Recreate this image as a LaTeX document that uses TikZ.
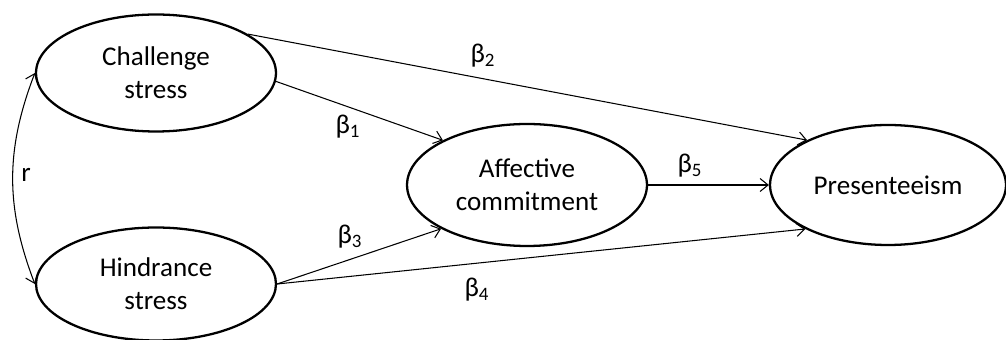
\documentclass[tikz,border=0pt]{standalone}
\usepackage{fontspec}
\setmainfont{Carlito}
\usetikzlibrary{arrows.meta,shapes.geometric}

\begin{document}
\begin{tikzpicture}[
  x=0.02cm, y=-0.02cm,
  font=\fontsize{15.4}{19}\selectfont,
  >={Straight Barb[length=1.6mm,width=2.6mm]},
  construct/.style={ellipse,draw,line width=1.3pt,minimum width=4.8cm,minimum height=2.34cm,align=center,inner sep=0pt},
  path/.style={->,line width=0.6pt},
  coef/.style={inner sep=0pt}
]
\useasboundingbox (0,0) rectangle (1006,340);
% --- constructs ------------------------------------------------------------
\node[construct] (ch) at (156,73) {Challenge\\stress};
\node[construct,minimum height=2.26cm] (hi) at (156,284) {Hindrance\\stress};
\node[construct,minimum height=2.44cm] (af) at (527,185) {Affective\\commitment};
\node[construct,minimum width=4.72cm,minimum height=2.4cm] (pr) at (888,185) {Presenteeism};
% --- paths -----------------------------------------------------------------
\draw[path] (ch.23) -- (pr.151);
\draw[path] (ch.-4) -- (af.152);
\draw[path] (hi.east) -- (af.207);
\draw[path] (hi.east) -- (pr.208);
\draw[path] (af.east) -- (pr.west);
\draw[<->,line width=0.6pt] (ch.west) to[bend right=21] (hi.west);
% --- coefficients ----------------------------------------------------------
\node[coef] (b1) at (348,127) {β\textsubscript{1}};
\node[coef] (b2) at (483,56) {β\textsubscript{2}};
\node[coef] (b3) at (350,237) {β\textsubscript{3}};
\node[coef] (b4) at (477,290) {β\textsubscript{4}};
\node[coef] (b5) at (690,166) {β\textsubscript{5}};
\node[coef] (r) at (26,175) {r};
\end{tikzpicture}
\end{document}
